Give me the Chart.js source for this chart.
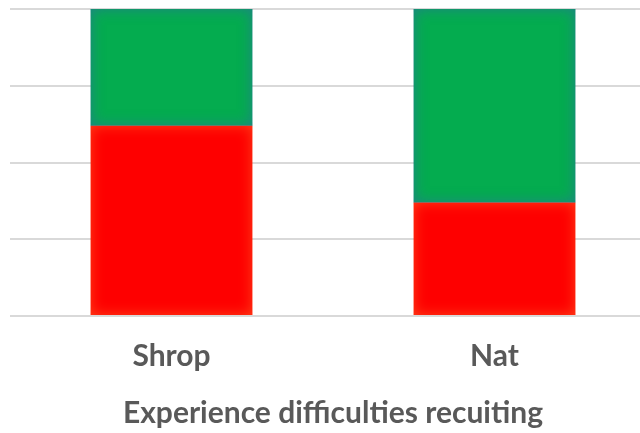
<!DOCTYPE html>
<html>
<head>
<meta charset="utf-8">
<script src="https://cdn.jsdelivr.net/npm/chart.js@4/dist/chart.umd.min.js"></script>
<style>
html,body{margin:0;padding:0;background:#fff;overflow:hidden;width:640px;height:433px;}
#wrap{width:668px;height:433px;position:relative;}
</style>
</head>
<body>
<div id="wrap"><canvas id="c" width="668" height="433"></canvas></div>
<script>
const categories = ["Shrop", "Nat"];
const yesValues = [62, 37];   // red (bottom)
const noValues = [38, 63];    // green (top)
const axisTitle = "Experience difficulties recuiting";

const innerGlow = {
  id: 'innerGlow',
  afterDatasetsDraw(chart) {
    const ctx = chart.ctx;
    chart.data.datasets.forEach((ds, di) => {
      const meta = chart.getDatasetMeta(di);
      meta.data.forEach(bar => {
        const p = bar.getProps(['x','y','base','width'], true);
        const l = p.x - p.width/2, r = p.x + p.width/2;
        const t = Math.min(p.y, p.base), b = Math.max(p.y, p.base);
        ctx.save();
        ctx.beginPath();
        ctx.rect(l, t, r-l, b-t);
        ctx.clip();
        ctx.beginPath();
        ctx.rect(l-200, t-200, (r-l)+400, (b-t)+400);
        ctx.rect(l, t, r-l, b-t);
        ctx.shadowColor = ds.glowColor;
        ctx.shadowBlur = 14;
        ctx.fillStyle = ds.glowColor;
        ctx.fill('evenodd');
        ctx.restore();
      });
    });
  }
};

new Chart(document.getElementById('c'), {
  type: 'bar',
  data: {
    labels: categories,
    datasets: [
      { label: 'Yes', data: yesValues, backgroundColor: '#fe0000', glowColor: 'rgba(255,80,30,0.9)', borderWidth: 0 },
      { label: 'No', data: noValues, backgroundColor: '#04ac4f', glowColor: 'rgba(40,120,150,0.9)', borderWidth: 0 }
    ]
  },
  options: {
    responsive: false,
    animation: false,
    layout: { padding: { left: 10, right: 12, top: 9, bottom: 2 } },
    plugins: { legend: { display: false }, tooltip: { enabled: false } },
    datasets: { bar: { barPercentage: 0.5, categoryPercentage: 1 } },
    scales: {
      x: {
        stacked: true,
        grid: { display: false, drawTicks: false },
        border: { display: false },
        ticks: { color: '#595959', font: { family: 'Lato', size: 30, weight: 'bold' }, padding: 22 },
        title: { display: true, text: axisTitle, color: '#595959', font: { family: 'Lato', size: 30, weight: 'bold' }, padding: { top: -1, bottom: 0 } }
      },
      y: {
        stacked: true,
        min: 0, max: 100,
        ticks: { display: false, stepSize: 25 },
        grid: { color: '#d9d9d9', lineWidth: 2, drawTicks: false },
        border: { display: false }
      }
    }
  },
  plugins: [innerGlow]
});
</script>
</body>
</html>
